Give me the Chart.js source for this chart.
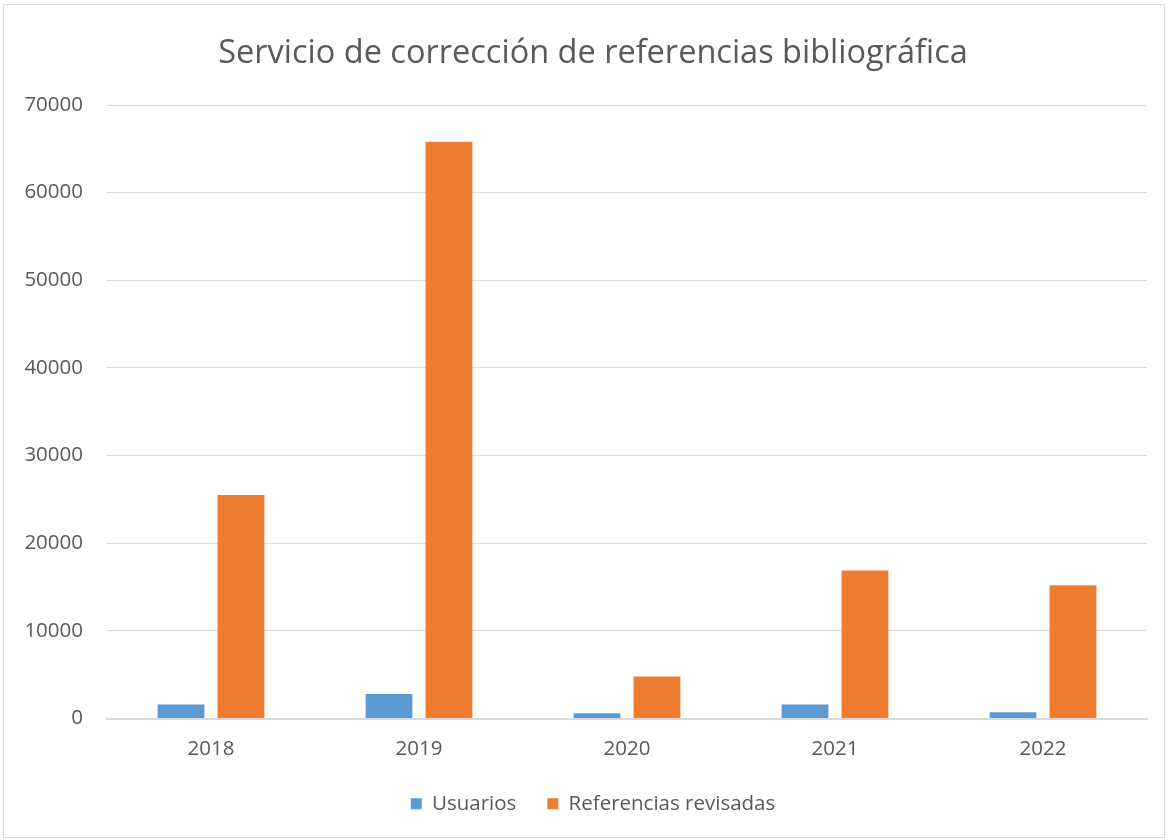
<!DOCTYPE html>
<html>
<head>
<meta charset="utf-8">
<script src="https://cdn.jsdelivr.net/npm/chart.js@4.4.0/dist/chart.umd.min.js"></script>
<style>
  html, body { margin: 0; padding: 0; background: #ffffff; }
  #frame { position: absolute; left: 3px; top: 4px; width: 1162px; height: 834px; border: 1px solid #d9d9d9; box-sizing: border-box; background: #fff; }
  #wrap { position: absolute; left: 0; top: 0; width: 1160px; height: 832px; }
</style>
</head>
<body>
<div id="frame"><div id="wrap"><canvas id="c"></canvas></div></div>
<script>
const categories = ["2018", "2019", "2020", "2021", "2022"];
const usuarios = [1600, 2800, 600, 1600, 700];
const referencias = [25500, 65800, 4800, 16900, 15200];
const yTicks = [0, 10000, 20000, 30000, 40000, 50000, 60000, 70000];
const titleText = "Servicio de corrección de referencias bibliográfica";
const seriesNames = ["Usuarios", "Referencias revisadas"];

const FONT = "'Open Sans', sans-serif";
const GREY = "#595959";

new Chart(document.getElementById("c"), {
  type: "bar",
  data: {
    labels: categories,
    datasets: [
      { label: seriesNames[0], data: usuarios, backgroundColor: "#5b9bd5", borderWidth: 0 },
      { label: seriesNames[1], data: referencias, backgroundColor: "#ed7d31", borderWidth: 0 }
    ]
  },
  options: {
    responsive: true,
    maintainAspectRatio: false,
    animation: false,
    datasets: { bar: { categoryPercentage: 0.577, barPercentage: 0.78 } },
    layout: { padding: { left: 19, right: 1, top: 29, bottom: 13 } },
    plugins: {
      title: {
        display: true,
        text: titleText,
        color: GREY,
        font: { family: FONT, size: 32.5, weight: "normal" },
        padding: { top: 0, bottom: 32 }
      },
      legend: {
        position: "bottom",
        labels: {
          color: GREY,
          font: { family: FONT, size: 20.5 },
          boxWidth: 11,
          boxHeight: 11,
          padding: 31
        }
      },
      tooltip: { enabled: false }
    },
    scales: {
      x: {
        afterFit: s => { s.height = 44; },
        grid: { display: false, drawTicks: false },
        border: { color: "#d9d9d9", width: 2 },
        ticks: { color: GREY, font: { family: FONT, size: 20.5 }, padding: 18 }
      },
      y: {
        min: 0,
        max: 70000,
        afterFit: s => { s.width = 84; },
        afterBuildTicks: s => { s.ticks = yTicks.map(v => ({ value: v })); },
        grid: { color: "#d9d9d9", lineWidth: 1, drawTicks: false },
        border: { display: false },
        ticks: { color: GREY, font: { family: FONT, size: 20.5 }, padding: 24, callback: v => String(v) }
      },
      yRightSpacer: {
        type: "linear",
        position: "right",
        display: true,
        afterFit: s => { s.width = 16; },
        grid: { display: false, drawTicks: false },
        border: { display: false },
        ticks: { display: false }
      }
    }
  }
});
</script>
</body>
</html>
